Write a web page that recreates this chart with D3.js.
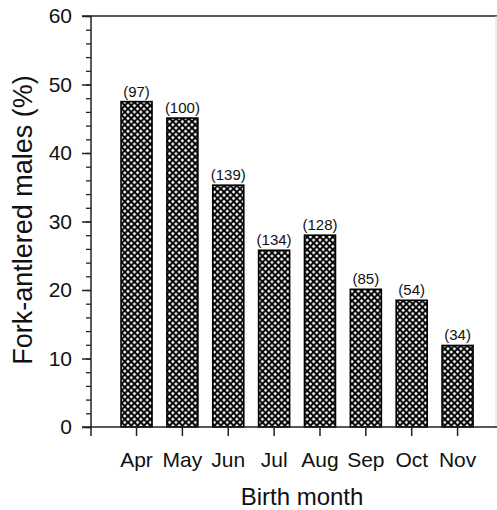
<!DOCTYPE html>
<html>
<head>
<meta charset="utf-8">
<script src="https://cdn.jsdelivr.net/npm/d3@7"></script>
<style>
  body { margin: 0; background: #fff; }
  svg { display: block; }
  text { font-family: Arial, "Liberation Sans", Helvetica, sans-serif; fill: #111; }
</style>
</head>
<body>
<svg class="chart" width="497" height="510"></svg>
<script>
// Data
const months = ["Apr", "May", "Jun", "Jul", "Aug", "Sep", "Oct", "Nov"];
const forkPercent = [47.5, 45.1, 35.3, 25.8, 28.0, 20.1, 18.5, 11.9];
const sampleSizes = [97, 100, 139, 134, 128, 85, 54, 34];
const yMajorTicks = [0, 10, 20, 30, 40, 50, 60];
const yMinorTicks = d3.range(0, 61, 2);

const svg = d3.select(".chart");
const width = +svg.attr("width");

const plotLeft = 91, plotTop = 16, plotBottom = 427;

const xScale = d3.scaleBand()
  .domain(months)
  .range([113.6, 480.5])
  .paddingInner(0.324)
  .paddingOuter(0.162);

const yScale = d3.scaleLinear()
  .domain([0, 60])
  .range([plotBottom, plotTop]);

// crosshatch fill
const defs = svg.append("defs");
const pat = defs.append("pattern")
  .attr("id", "hatch")
  .attr("patternUnits", "userSpaceOnUse")
  .attr("width", 6.4)
  .attr("height", 6.4);
pat.append("rect").attr("width", 6.4).attr("height", 6.4).attr("fill", "#fff");
pat.append("path")
  .attr("d", "M-1,-1L7.4,7.4M7.4,-1L-1,7.4")
  .attr("stroke", "#000")
  .attr("stroke-width", 2);

// frame: top line and faint right edge
svg.append("line")
  .attr("x1", 82).attr("x2", width)
  .attr("y1", plotTop).attr("y2", plotTop)
  .attr("stroke", "#222").attr("stroke-width", 1.5);
svg.append("line")
  .attr("x1", 496).attr("x2", 496)
  .attr("y1", plotTop).attr("y2", plotBottom)
  .attr("stroke", "#ddd").attr("stroke-width", 1);

// bars
svg.selectAll("rect.bar")
  .data(months)
  .enter()
  .append("rect")
  .attr("class", "bar")
  .attr("x", d => xScale(d))
  .attr("y", (d, i) => yScale(forkPercent[i]))
  .attr("width", xScale.bandwidth())
  .attr("height", (d, i) => plotBottom - yScale(forkPercent[i]))
  .attr("fill", "url(#hatch)")
  .attr("stroke", "#000")
  .attr("stroke-width", 1.6);

// sample sizes above bars
svg.selectAll("text.n")
  .data(months)
  .enter()
  .append("text")
  .attr("class", "n")
  .attr("text-anchor", "middle")
  .attr("x", d => xScale(d) + xScale.bandwidth() / 2)
  .attr("y", (d, i) => yScale(forkPercent[i]) - 5)
  .style("font-size", "15px")
  .text((d, i) => "(" + sampleSizes[i] + ")");

// y axis: minor then major ticks
const yMinor = svg.append("g")
  .attr("transform", `translate(${plotLeft},0)`)
  .call(d3.axisLeft(yScale).tickValues(yMinorTicks).tickSize(5).tickFormat(""));
yMinor.select(".domain").remove();
yMinor.selectAll("line").attr("stroke", "#222").attr("stroke-width", 1.3);

const yMajor = svg.append("g")
  .attr("transform", `translate(${plotLeft},0)`)
  .call(d3.axisLeft(yScale).tickValues(yMajorTicks).tickSize(9).tickPadding(10));
yMajor.select(".domain").remove();
yMajor.selectAll("line").attr("stroke", "#222").attr("stroke-width", 1.5);
yMajor.selectAll("text")
  .attr("font-family", null)
  .style("font-size", "21px")
  .attr("fill", "#111");

svg.append("line")
  .attr("x1", plotLeft).attr("x2", plotLeft)
  .attr("y1", plotTop).attr("y2", plotBottom + 9)
  .attr("stroke", "#222").attr("stroke-width", 1.5);

// x axis
const xAxis = svg.append("g")
  .attr("transform", `translate(0,${plotBottom})`)
  .call(d3.axisBottom(xScale).tickSize(9).tickPadding(10));
xAxis.select(".domain").remove();
xAxis.selectAll("line").attr("stroke", "#222").attr("stroke-width", 1.5);
xAxis.selectAll("text")
  .attr("font-family", null)
  .attr("dy", null)
  .attr("y", 40)
  .style("font-size", "21px")
  .attr("fill", "#111");

svg.append("line")
  .attr("x1", 82).attr("x2", width)
  .attr("y1", plotBottom).attr("y2", plotBottom)
  .attr("stroke", "#222").attr("stroke-width", 1.5);

// axis titles
svg.append("text")
  .attr("text-anchor", "middle")
  .attr("x", 302)
  .attr("y", 505)
  .style("font-size", "24px")
  .text("Birth month");

svg.append("text")
  .attr("text-anchor", "middle")
  .attr("transform", "translate(32,220) rotate(-90)")
  .style("font-size", "27px")
  .text("Fork-antlered males (%)");
</script>
</body>
</html>
